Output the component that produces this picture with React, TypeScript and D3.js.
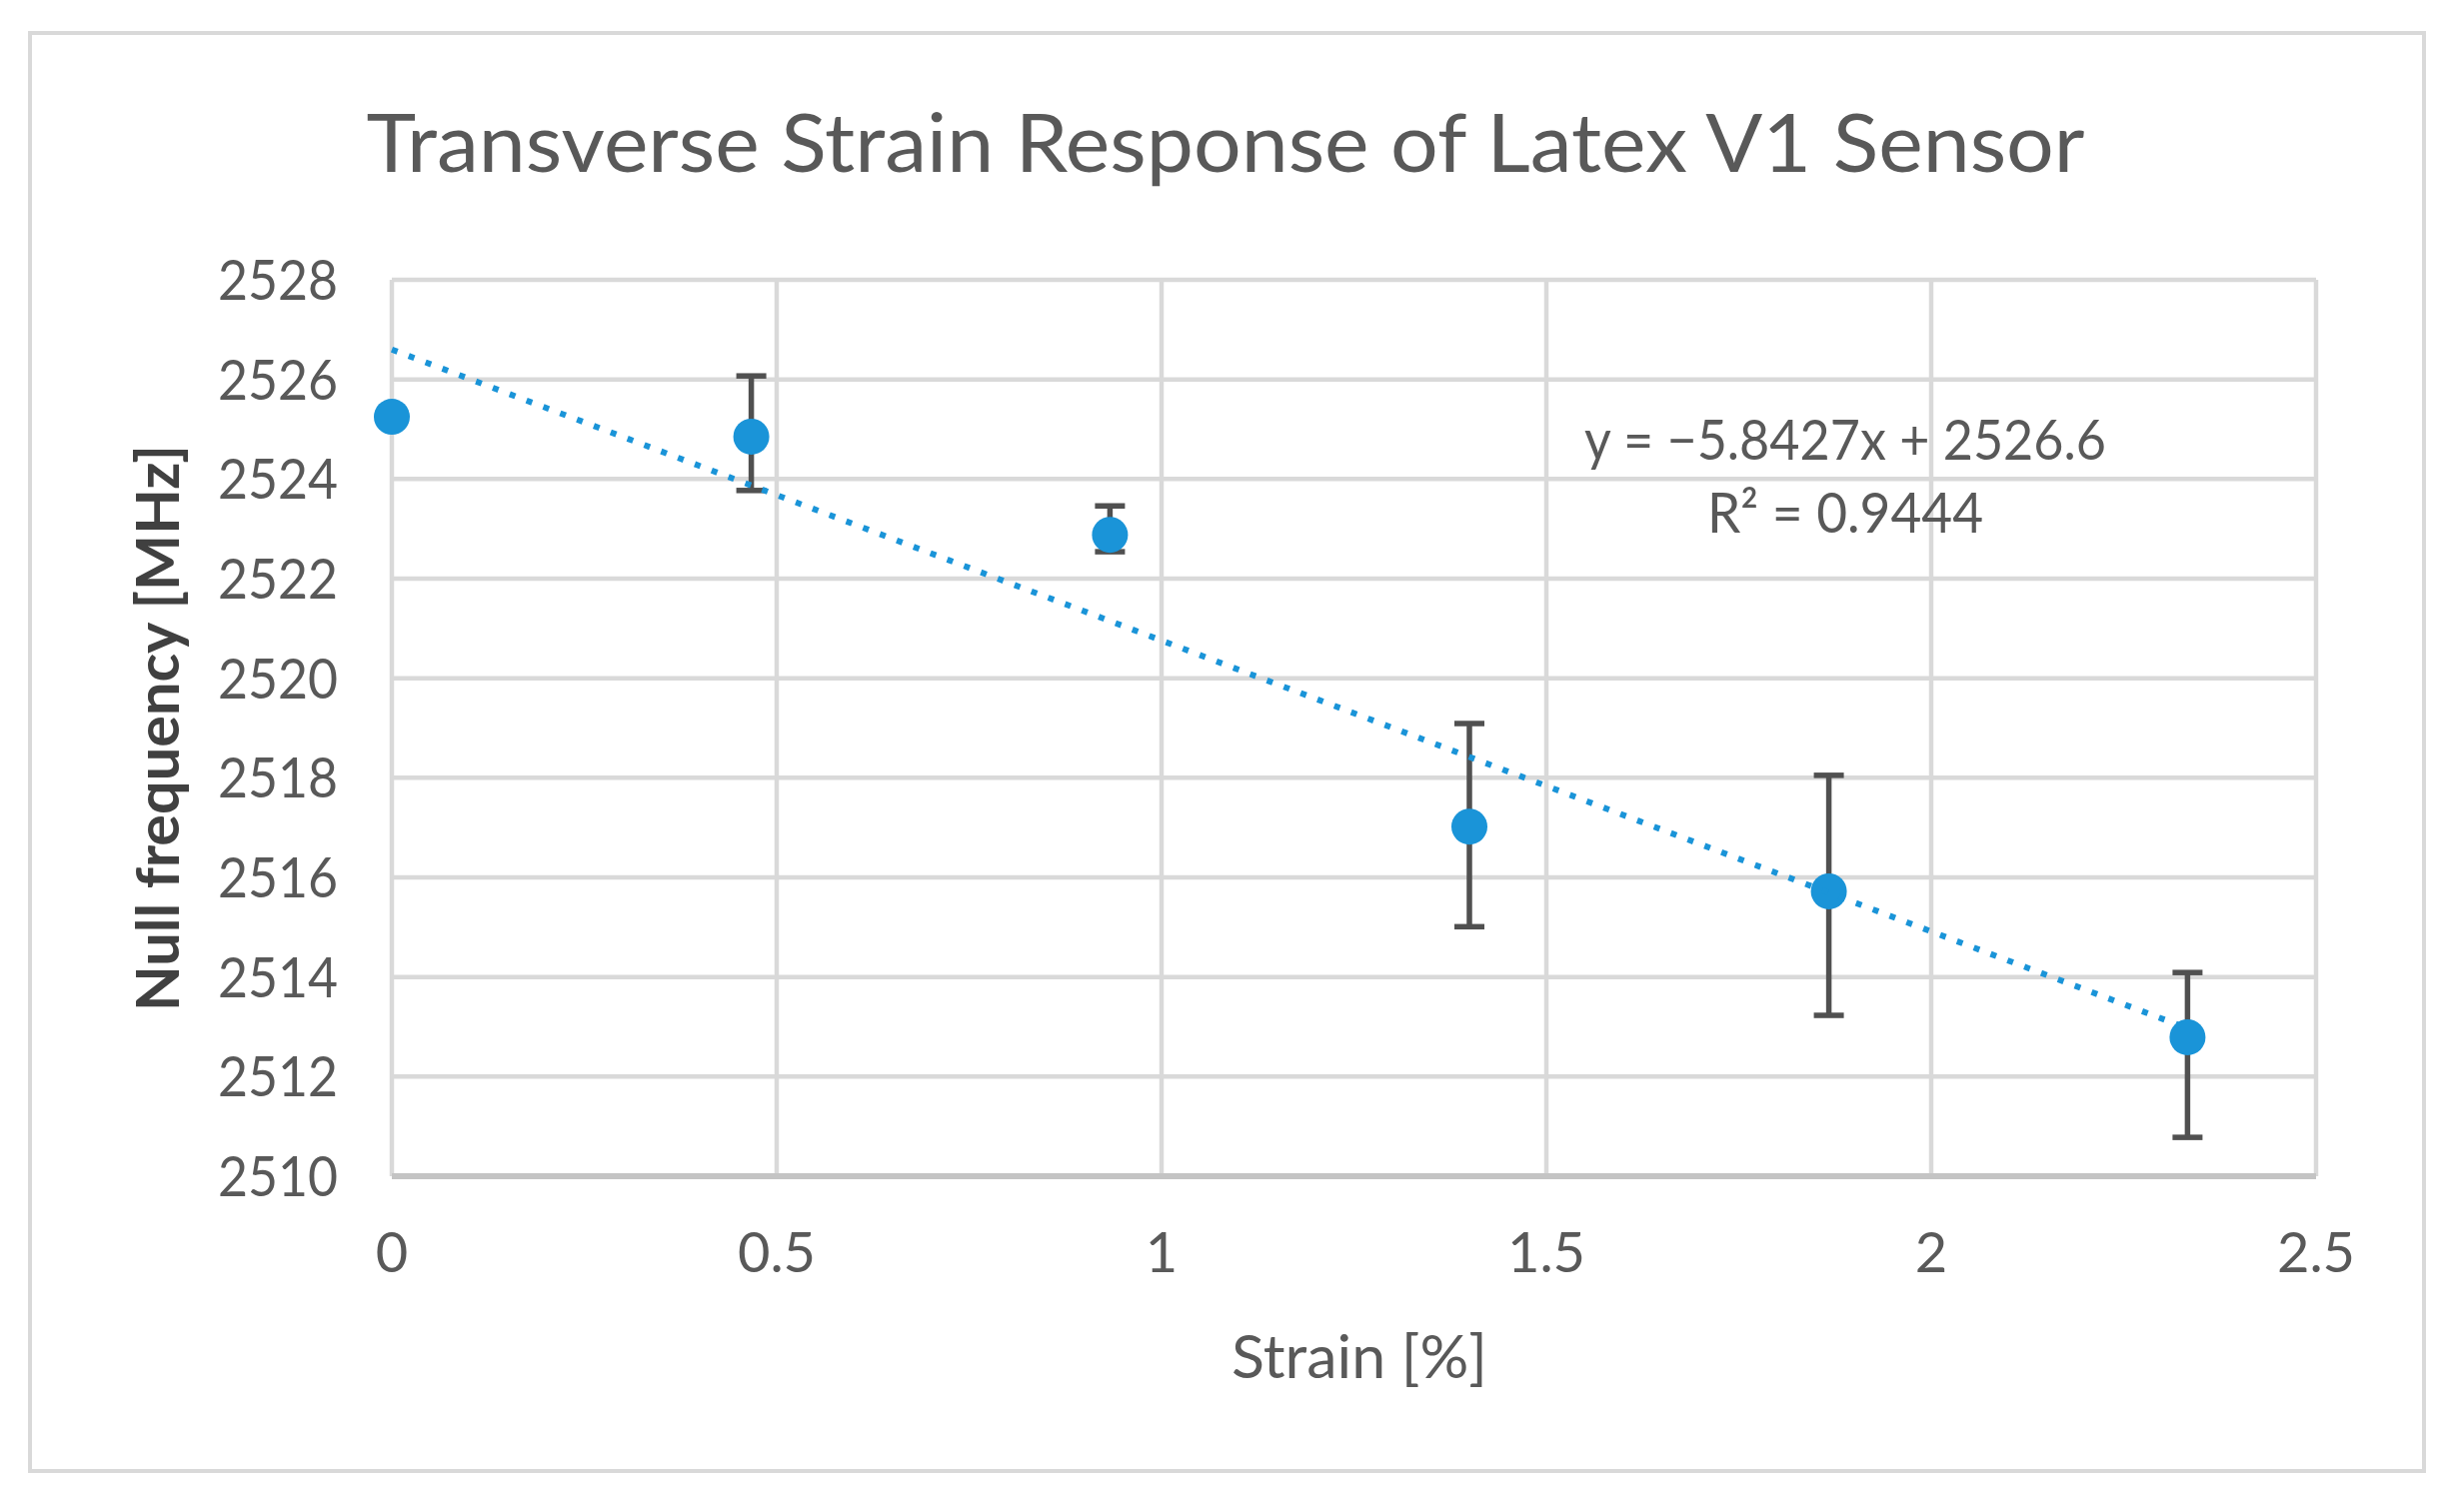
import React, { useEffect, useRef } from 'react';
import * as d3 from 'd3';

// strain [%]
const strain = [0, 0.467, 0.933, 1.4, 1.867, 2.333];
// null frequency [MHz]
const nullFreq = [2525.25, 2524.85, 2522.88, 2517.02, 2515.72, 2512.79];
// custom error bar lengths (above / below the point)
const errPlus = [0, 1.22, 0.58, 2.07, 2.33, 1.3];
const errMinus = [0, 1.08, 0.34, 2.01, 2.49, 2.01];

const xTicks = [0, 0.5, 1, 1.5, 2, 2.5];
const yTicks = [2510, 2512, 2514, 2516, 2518, 2520, 2522, 2524, 2526, 2528];

const trendSlope = -5.8427;
const trendIntercept = 2526.6;
const equationLabel = 'y = \u22125.8427x + 2526.6';
const r2Label = 'R\u00B2 = 0.9444';

const W = 2465;
const H = 1500;
const FONT = 'Lato, "Open Sans", sans-serif';

const App: React.FC = () => {
  const svgRef = useRef<SVGSVGElement>(null);

  useEffect(() => {
    if (!svgRef.current) return;
    const svg = d3.select(svgRef.current);
    svg.selectAll('*').remove();

    const left = 392, right = 2317, top = 280, bottom = 1177;

    const x = d3.scaleLinear().domain([0, 2.5]).range([left, right]);
    const y = d3.scaleLinear().domain([2510, 2528]).range([bottom, top]);

    svg.append('rect').attr('width', W).attr('height', H).attr('fill', '#fff');

    // chart frame
    svg.append('rect')
      .attr('x', 30).attr('y', 33)
      .attr('width', 2395).attr('height', 1439)
      .attr('fill', 'none')
      .attr('stroke', '#d9d9d9')
      .attr('stroke-width', 4);

    // title
    svg.append('text')
      .attr('x', 1226).attr('y', 172)
      .attr('text-anchor', 'middle')
      .attr('font-family', FONT)
      .attr('font-size', 82)
      .attr('fill', '#595959')
      .attr('textLength', 1719)
      .attr('lengthAdjust', 'spacingAndGlyphs')
      .text('Transverse Strain Response of Latex V1 Sensor');

    // gridlines
    const grid = svg.append('g');
    grid.selectAll('line.h')
      .data(yTicks.filter(t => t !== 2510))
      .join('line')
      .attr('x1', left).attr('x2', right)
      .attr('y1', d => y(d)).attr('y2', d => y(d))
      .attr('stroke', '#d9d9d9').attr('stroke-width', 4.5);
    grid.selectAll('line.v')
      .data(xTicks)
      .join('line')
      .attr('x1', d => x(d)).attr('x2', d => x(d))
      .attr('y1', top).attr('y2', bottom)
      .attr('stroke', '#d9d9d9').attr('stroke-width', 4.5);

    // bottom axis line
    svg.append('line')
      .attr('x1', left).attr('x2', right)
      .attr('y1', bottom).attr('y2', bottom)
      .attr('stroke', '#c4c4c4').attr('stroke-width', 6);

    // y tick labels
    svg.append('g').selectAll('text')
      .data(yTicks)
      .join('text')
      .attr('x', 338)
      .attr('y', d => y(d) + 20)
      .attr('text-anchor', 'end')
      .attr('font-family', FONT)
      .attr('font-size', 56)
      .attr('fill', '#595959')
      .attr('textLength', 120)
      .attr('lengthAdjust', 'spacingAndGlyphs')
      .text(d => String(d));

    // x tick labels
    svg.append('g').selectAll('text')
      .data(xTicks)
      .join('text')
      .attr('x', d => x(d))
      .attr('y', 1273)
      .attr('text-anchor', 'middle')
      .attr('font-family', FONT)
      .attr('font-size', 56)
      .attr('fill', '#595959')
      .text(d => String(d));

    // axis titles
    svg.append('text')
      .attr('x', 1360).attr('y', 1379)
      .attr('text-anchor', 'middle')
      .attr('font-family', FONT)
      .attr('font-size', 60)
      .attr('fill', '#595959')
      .attr('textLength', 256)
      .attr('lengthAdjust', 'spacingAndGlyphs')
      .text('Strain [%]');

    svg.append('text')
      .attr('transform', `translate(179, ${(top + bottom) / 2}) rotate(-90)`)
      .attr('text-anchor', 'middle')
      .attr('font-family', FONT)
      .attr('font-weight', 700)
      .attr('font-size', 60)
      .attr('fill', '#404040')
      .attr('textLength', 567)
      .attr('lengthAdjust', 'spacingAndGlyphs')
      .text('Null frequency [MHz]');

    // error bars
    const eb = svg.append('g').attr('stroke', '#505050').attr('stroke-width', 5.5);
    strain.forEach((s, i) => {
      if (errPlus[i] <= 0 && errMinus[i] <= 0) return;
      const cx = x(s);
      const y1 = y(nullFreq[i] + errPlus[i]);
      const y2 = y(nullFreq[i] - errMinus[i]);
      eb.append('line').attr('x1', cx).attr('x2', cx).attr('y1', y1).attr('y2', y2);
      eb.append('line').attr('x1', cx - 15).attr('x2', cx + 15).attr('y1', y1).attr('y2', y1);
      eb.append('line').attr('x1', cx - 15).attr('x2', cx + 15).attr('y1', y2).attr('y2', y2);
    });

    // markers
    svg.append('g').selectAll('circle')
      .data(strain)
      .join('circle')
      .attr('cx', d => x(d))
      .attr('cy', (_d, i) => y(nullFreq[i]))
      .attr('r', 18)
      .attr('fill', '#1a94d8');

    // linear trendline
    const xMin = d3.min(strain) as number;
    const xMax = d3.max(strain) as number;
    const trend = d3.line<number>()
      .x(d => x(d))
      .y(d => y(trendSlope * d + trendIntercept));
    svg.append('path')
      .datum([xMin, xMax])
      .attr('d', trend)
      .attr('fill', 'none')
      .attr('stroke', '#1a94d8')
      .attr('stroke-width', 6)
      .attr('stroke-dasharray', '6 12');

    // equation
    svg.append('text')
      .attr('x', 1846).attr('y', 460)
      .attr('text-anchor', 'middle')
      .attr('font-family', FONT)
      .attr('font-size', 56)
      .attr('fill', '#595959')
      .attr('textLength', 522)
      .attr('lengthAdjust', 'spacingAndGlyphs')
      .text(equationLabel);
    svg.append('text')
      .attr('x', 1846).attr('y', 533)
      .attr('text-anchor', 'middle')
      .attr('font-family', FONT)
      .attr('font-size', 56)
      .attr('fill', '#595959')
      .attr('textLength', 276)
      .attr('lengthAdjust', 'spacingAndGlyphs')
      .text(r2Label);
  }, []);

  return (
    <div style={{ position: 'absolute', left: 0, top: 0 }}>
      <svg ref={svgRef} width={W} height={H} style={{ display: 'block' }} />
    </div>
  );
};

export default App;
